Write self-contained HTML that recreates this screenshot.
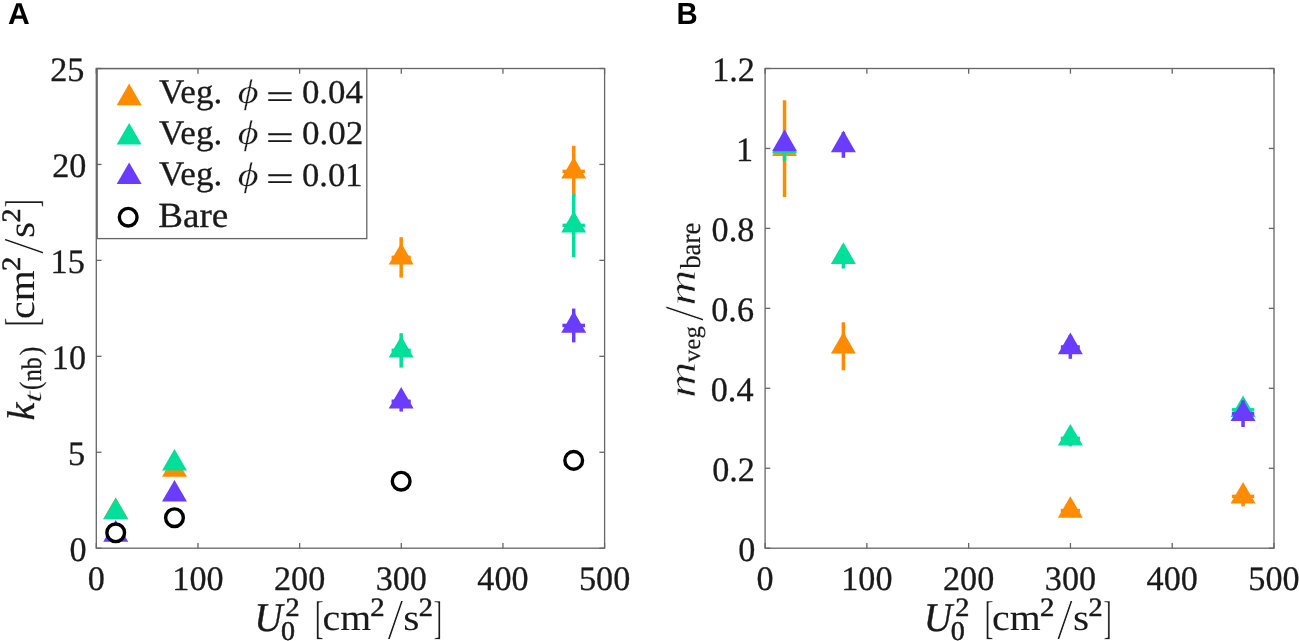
<!DOCTYPE html>
<html lang="en"><head><meta charset="utf-8"><title>Figure</title>
<style>html,body{margin:0;padding:0;background:#fff;}body{width:1299px;height:641px;overflow:hidden;}svg{display:block;will-change:transform;}text{text-rendering:geometricPrecision;}</style>
</head><body>
<svg width="1299" height="641" viewBox="0 0 1299 641">
<rect width="1299" height="641" fill="#fff"/>
<g font-family='"Liberation Sans", "DejaVu Sans", sans-serif' font-weight="bold" fill="#000">
<text transform="translate(7.95 24.00) scale(1.0050 1.0122)" font-size="30">A</text>
<text transform="translate(676.49 24.00) scale(0.9781 1.0170)" font-size="30">B</text>
</g>
<g font-family='"Liberation Serif", "DejaVu Serif", serif' font-size="34.2" fill="#1a1a1a" stroke="#1a1a1a" stroke-width="0.3">
<text x="96.30" y="590.20" text-anchor="middle">0</text>
<text x="197.96" y="590.20" text-anchor="middle">100</text>
<text x="299.62" y="590.20" text-anchor="middle">200</text>
<text x="401.28" y="590.20" text-anchor="middle">300</text>
<text x="502.94" y="590.20" text-anchor="middle">400</text>
<text x="604.60" y="590.20" text-anchor="middle">500</text>
<text x="69.57" y="560.70">0</text>
<text x="67.97" y="464.76">5</text>
<text x="51.87" y="368.82">10</text>
<text x="50.57" y="272.88">15</text>
<text x="52.27" y="176.94">20</text>
<text x="50.27" y="81.00">25</text>
</g>
<g>


<line x1="401.18" y1="237.20" x2="401.18" y2="277.60" stroke="#FF8C00" stroke-width="3.5"/><line x1="391.58" y1="257.40" x2="410.78" y2="257.40" stroke="#FF8C00" stroke-width="3.5"/>
<line x1="573.70" y1="145.80" x2="573.70" y2="197.00" stroke="#FF8C00" stroke-width="3.5"/><line x1="562.50" y1="171.40" x2="584.90" y2="171.40" stroke="#FF8C00" stroke-width="3.5"/>
<polygon points="115.72,497.40 128.19,519.00 103.25,519.00" fill="#FF8C00"/>
<polygon points="174.48,455.20 186.95,476.80 162.01,476.80" fill="#FF8C00"/>
<polygon points="401.18,243.00 413.65,264.60 388.71,264.60" fill="#FF8C00"/>
<polygon points="573.70,157.00 586.17,178.60 561.22,178.60" fill="#FF8C00"/>
</g>
<g>


<line x1="401.18" y1="333.20" x2="401.18" y2="367.60" stroke="#00E09A" stroke-width="3.5"/><line x1="391.58" y1="350.40" x2="410.78" y2="350.40" stroke="#00E09A" stroke-width="3.5"/>
<line x1="573.70" y1="193.60" x2="573.70" y2="257.20" stroke="#00E09A" stroke-width="3.5"/><line x1="562.50" y1="225.40" x2="584.90" y2="225.40" stroke="#00E09A" stroke-width="3.5"/>
<polygon points="115.72,497.70 128.19,519.30 103.25,519.30" fill="#00E09A"/>
<polygon points="174.48,448.90 186.95,470.50 162.01,470.50" fill="#00E09A"/>
<polygon points="401.18,336.00 413.65,357.60 388.71,357.60" fill="#00E09A"/>
<polygon points="573.70,211.00 586.17,232.60 561.22,232.60" fill="#00E09A"/>
</g>
<g>


<line x1="401.18" y1="391.00" x2="401.18" y2="411.60" stroke="#6A3CFF" stroke-width="3.5"/><line x1="391.58" y1="401.30" x2="410.78" y2="401.30" stroke="#6A3CFF" stroke-width="3.5"/>
<line x1="573.70" y1="308.55" x2="573.70" y2="342.35" stroke="#6A3CFF" stroke-width="3.5"/><line x1="562.40" y1="325.45" x2="585.00" y2="325.45" stroke="#6A3CFF" stroke-width="3.5"/>
<polygon points="115.72,520.10 128.19,541.70 103.25,541.70" fill="#6A3CFF"/>
<polygon points="174.48,479.90 186.95,501.50 162.01,501.50" fill="#6A3CFF"/>
<polygon points="401.18,386.90 413.65,408.50 388.71,408.50" fill="#6A3CFF"/>
<polygon points="573.70,311.05 586.17,332.65 561.22,332.65" fill="#6A3CFF"/>
</g>
<g>
<circle cx="115.72" cy="532.80" r="8.85" fill="#fff" stroke="#000" stroke-width="3.4"/>
<circle cx="174.48" cy="517.70" r="8.85" fill="#fff" stroke="#000" stroke-width="3.4"/>
<circle cx="401.18" cy="481.20" r="8.85" fill="#fff" stroke="#000" stroke-width="3.4"/>
<circle cx="573.70" cy="460.40" r="8.85" fill="#fff" stroke="#000" stroke-width="3.4"/>
</g>
<rect x="97.2" y="68.6" width="269.6" height="170.0" fill="#fff" stroke="#666666" stroke-width="1.3"/>
<polygon points="129.15,83.60 141.62,105.20 116.68,105.20" fill="#FF8C00"/>
<polygon points="129.15,122.90 141.62,144.50 116.68,144.50" fill="#00E09A"/>
<polygon points="129.15,162.40 141.62,184.00 116.68,184.00" fill="#6A3CFF"/>
<circle cx="128.20" cy="217.20" r="8.85" fill="#fff" stroke="#000" stroke-width="3.4"/>
<g font-family='"Liberation Serif", "DejaVu Serif", serif' fill="#1a1a1a" stroke="#1a1a1a" stroke-width="0.3">
<text transform="translate(158.95 102.71) scale(1.0615 1.0414)" font-size="33">Veg.</text>
<text transform="translate(237.74 103.28) scale(1.2186 1.0347)" font-size="33" font-style="italic" stroke="#fff" stroke-width="0.266">ϕ</text>
<text transform="translate(266.04 107.60) scale(1.4923 1.0390)" font-size="33" stroke-width="0.25">=</text>
<text transform="translate(301.90 103.10) scale(1.0584 1.0071)" font-size="33">0.04</text>
<text transform="translate(158.95 143.91) scale(1.0615 1.0414)" font-size="33">Veg.</text>
<text transform="translate(237.74 144.48) scale(1.2186 1.0347)" font-size="33" font-style="italic" stroke="#fff" stroke-width="0.266">ϕ</text>
<text transform="translate(266.04 148.80) scale(1.4923 1.0390)" font-size="33" stroke-width="0.25">=</text>
<text transform="translate(301.90 144.30) scale(1.0638 1.0071)" font-size="33">0.02</text>
<text transform="translate(158.95 185.21) scale(1.0615 1.0414)" font-size="33">Veg.</text>
<text transform="translate(237.74 185.78) scale(1.2186 1.0347)" font-size="33" font-style="italic" stroke="#fff" stroke-width="0.266">ϕ</text>
<text transform="translate(266.04 190.10) scale(1.4923 1.0390)" font-size="33" stroke-width="0.25">=</text>
<text transform="translate(301.92 185.60) scale(1.0487 1.0071)" font-size="33">0.01</text>
<text transform="translate(158.19 227.45) scale(1.1258 1.0709)" font-size="33">Bare</text>
</g>
<g stroke="#666666" stroke-width="1.3" fill="none">
<rect x="96.30" y="68.50" width="508.30" height="479.70"/>
<line x1="96.30" y1="548.20" x2="96.30" y2="543.00"/>
<line x1="96.30" y1="68.50" x2="96.30" y2="73.70"/>
<line x1="197.96" y1="548.20" x2="197.96" y2="543.00"/>
<line x1="197.96" y1="68.50" x2="197.96" y2="73.70"/>
<line x1="299.62" y1="548.20" x2="299.62" y2="543.00"/>
<line x1="299.62" y1="68.50" x2="299.62" y2="73.70"/>
<line x1="401.28" y1="548.20" x2="401.28" y2="543.00"/>
<line x1="401.28" y1="68.50" x2="401.28" y2="73.70"/>
<line x1="502.94" y1="548.20" x2="502.94" y2="543.00"/>
<line x1="502.94" y1="68.50" x2="502.94" y2="73.70"/>
<line x1="604.60" y1="548.20" x2="604.60" y2="543.00"/>
<line x1="604.60" y1="68.50" x2="604.60" y2="73.70"/>
<line x1="96.30" y1="548.20" x2="101.50" y2="548.20"/>
<line x1="604.60" y1="548.20" x2="599.40" y2="548.20"/>
<line x1="96.30" y1="452.26" x2="101.50" y2="452.26"/>
<line x1="604.60" y1="452.26" x2="599.40" y2="452.26"/>
<line x1="96.30" y1="356.32" x2="101.50" y2="356.32"/>
<line x1="604.60" y1="356.32" x2="599.40" y2="356.32"/>
<line x1="96.30" y1="260.38" x2="101.50" y2="260.38"/>
<line x1="604.60" y1="260.38" x2="599.40" y2="260.38"/>
<line x1="96.30" y1="164.44" x2="101.50" y2="164.44"/>
<line x1="604.60" y1="164.44" x2="599.40" y2="164.44"/>
<line x1="96.30" y1="68.50" x2="101.50" y2="68.50"/>
<line x1="604.60" y1="68.50" x2="599.40" y2="68.50"/>
</g>
<g transform="translate(33.9 419.8) rotate(-90)" font-family='"Liberation Serif", "DejaVu Serif", serif' fill="#1a1a1a" stroke="#1a1a1a" stroke-width="0.35">
<text transform="translate(-0.61 0.00) scale(1.0588 1.0186)" font-size="38.0" font-style="italic">k</text>
<text transform="translate(16.55 7.20) scale(1.6444 0.9227)" font-size="27" font-style="italic" stroke="#fff" stroke-width="0.390">t</text>
<text transform="translate(29.69 6.17) scale(0.9150 1.0988)" font-size="27" stroke-width="0.2">(</text>
<text transform="translate(38.60 6.72) scale(0.8873 1.0454)" font-size="27">nb</text>
<text transform="translate(64.43 6.17) scale(0.9544 1.0988)" font-size="27" stroke-width="0.2">)</text>
<text transform="translate(93.25 2.95) scale(0.7177 1.2175)" font-size="38.0" stroke="#fff" stroke-width="0.413">[</text>
<text transform="translate(100.91 -0.07) scale(1.0459 0.9814)" font-size="38.0" stroke-width="0.1">cm</text>
<text transform="translate(148.71 -14.30) scale(1.0648 0.9820)" font-size="27" stroke-width="0.55">2</text>
<text transform="translate(165.57 8.74) scale(1.5359 1.5338)" font-size="38.0" stroke="#fff" stroke-width="0.684">/</text>
<text transform="translate(181.74 -0.07) scale(1.0944 0.9814)" font-size="38.0" stroke-width="0.0">s</text>
<text transform="translate(197.23 -14.30) scale(1.0463 0.9820)" font-size="27" stroke-width="0.55">2</text>
<text transform="translate(212.00 2.95) scale(0.6784 1.2175)" font-size="38.0" stroke="#fff" stroke-width="0.422">]</text>
</g>
<g font-family='"Liberation Serif", "DejaVu Serif", serif' fill="#1a1a1a" stroke="#1a1a1a" stroke-width="0.35">
<text transform="translate(254.17 630.59) scale(1.0334 1.0724)" font-size="38.0" font-style="italic">U</text>
<text transform="translate(285.53 616.20) scale(1.0463 0.9820)" font-size="27" stroke-width="0.55">2</text>
<text transform="translate(281.08 639.93) scale(1.0406 1.0041)" font-size="27" stroke-width="0.55">0</text>
<text transform="translate(314.85 633.45) scale(0.7177 1.2175)" font-size="38.0" stroke="#fff" stroke-width="0.413">[</text>
<text transform="translate(322.51 630.43) scale(1.0459 0.9814)" font-size="38.0" stroke-width="0.1">cm</text>
<text transform="translate(370.31 616.20) scale(1.0648 0.9820)" font-size="27" stroke-width="0.55">2</text>
<text transform="translate(387.18 639.24) scale(1.5359 1.5338)" font-size="38.0" stroke="#fff" stroke-width="0.684">/</text>
<text transform="translate(403.34 630.43) scale(1.0944 0.9814)" font-size="38.0" stroke-width="0.0">s</text>
<text transform="translate(418.83 616.20) scale(1.0463 0.9820)" font-size="27" stroke-width="0.55">2</text>
<text transform="translate(433.60 633.45) scale(0.6784 1.2175)" font-size="38.0" stroke="#fff" stroke-width="0.422">]</text>
</g>
<g font-family='"Liberation Serif", "DejaVu Serif", serif' font-size="34.2" fill="#1a1a1a" stroke="#1a1a1a" stroke-width="0.3">
<text x="765.10" y="590.20" text-anchor="middle">0</text>
<text x="866.88" y="590.20" text-anchor="middle">100</text>
<text x="968.66" y="590.20" text-anchor="middle">200</text>
<text x="1070.44" y="590.20" text-anchor="middle">300</text>
<text x="1172.22" y="590.20" text-anchor="middle">400</text>
<text x="1274.00" y="590.20" text-anchor="middle">500</text>
<text x="738.37" y="560.70">0</text>
<text x="712.13" y="480.75">0.2</text>
<text x="710.76" y="400.80">0.4</text>
<text x="711.28" y="320.85">0.6</text>
<text x="711.62" y="240.90">0.8</text>
<text x="735.95" y="160.95">1</text>
<text x="712.23" y="81.00">1.2</text>
</g>
<g>
<line x1="784.54" y1="100.30" x2="784.54" y2="197.10" stroke="#FF8C00" stroke-width="3.5"/>
<line x1="843.37" y1="322.30" x2="843.37" y2="370.30" stroke="#FF8C00" stroke-width="3.5"/>
<line x1="1060.74" y1="510.60" x2="1079.94" y2="510.60" stroke="#FF8C00" stroke-width="3.5"/>
<line x1="1243.06" y1="486.40" x2="1243.06" y2="506.40" stroke="#FF8C00" stroke-width="3.5"/><line x1="1231.86" y1="496.40" x2="1254.26" y2="496.40" stroke="#FF8C00" stroke-width="3.5"/>
<polygon points="784.54,134.30 797.01,155.90 772.07,155.90" fill="#FF8C00"/>
<polygon points="843.37,331.90 855.84,353.50 830.90,353.50" fill="#FF8C00"/>
<polygon points="1070.34,496.20 1082.81,517.80 1057.87,517.80" fill="#FF8C00"/>
<polygon points="1243.06,482.00 1255.53,503.60 1230.59,503.60" fill="#FF8C00"/>
</g>
<g>
<line x1="784.54" y1="131.40" x2="784.54" y2="160.80" stroke="#00E09A" stroke-width="3.5"/>
<line x1="843.37" y1="244.90" x2="843.37" y2="268.50" stroke="#00E09A" stroke-width="3.5"/>
<line x1="1070.34" y1="430.40" x2="1070.34" y2="446.40" stroke="#00E09A" stroke-width="3.5"/><line x1="1060.74" y1="438.40" x2="1079.94" y2="438.40" stroke="#00E09A" stroke-width="3.5"/>
<line x1="1231.86" y1="409.80" x2="1254.26" y2="409.80" stroke="#00E09A" stroke-width="3.5"/>
<polygon points="784.54,131.70 797.01,153.30 772.07,153.30" fill="#00E09A"/>
<polygon points="843.37,242.30 855.84,263.90 830.90,263.90" fill="#00E09A"/>
<polygon points="1070.34,424.00 1082.81,445.60 1057.87,445.60" fill="#00E09A"/>
<polygon points="1243.06,395.40 1255.53,417.00 1230.59,417.00" fill="#00E09A"/>
</g>
<g>

<line x1="843.37" y1="132.20" x2="843.37" y2="157.80" stroke="#6A3CFF" stroke-width="3.5"/>
<line x1="1070.34" y1="335.20" x2="1070.34" y2="358.80" stroke="#6A3CFF" stroke-width="3.5"/><line x1="1060.84" y1="347.00" x2="1079.84" y2="347.00" stroke="#6A3CFF" stroke-width="3.5"/>
<line x1="1243.06" y1="400.60" x2="1243.06" y2="427.00" stroke="#6A3CFF" stroke-width="3.5"/><line x1="1231.86" y1="413.80" x2="1254.26" y2="413.80" stroke="#6A3CFF" stroke-width="3.5"/>
<polygon points="784.54,129.60 797.01,151.20 772.07,151.20" fill="#6A3CFF"/>
<polygon points="843.37,130.60 855.84,152.20 830.90,152.20" fill="#6A3CFF"/>
<polygon points="1070.34,332.60 1082.81,354.20 1057.87,354.20" fill="#6A3CFF"/>
<polygon points="1243.06,399.40 1255.53,421.00 1230.59,421.00" fill="#6A3CFF"/>
</g>
<g stroke="#666666" stroke-width="1.3" fill="none">
<rect x="765.10" y="68.50" width="508.90" height="479.70"/>
<line x1="765.10" y1="548.20" x2="765.10" y2="543.00"/>
<line x1="765.10" y1="68.50" x2="765.10" y2="73.70"/>
<line x1="866.88" y1="548.20" x2="866.88" y2="543.00"/>
<line x1="866.88" y1="68.50" x2="866.88" y2="73.70"/>
<line x1="968.66" y1="548.20" x2="968.66" y2="543.00"/>
<line x1="968.66" y1="68.50" x2="968.66" y2="73.70"/>
<line x1="1070.44" y1="548.20" x2="1070.44" y2="543.00"/>
<line x1="1070.44" y1="68.50" x2="1070.44" y2="73.70"/>
<line x1="1172.22" y1="548.20" x2="1172.22" y2="543.00"/>
<line x1="1172.22" y1="68.50" x2="1172.22" y2="73.70"/>
<line x1="1274.00" y1="548.20" x2="1274.00" y2="543.00"/>
<line x1="1274.00" y1="68.50" x2="1274.00" y2="73.70"/>
<line x1="765.10" y1="548.20" x2="770.30" y2="548.20"/>
<line x1="1274.00" y1="548.20" x2="1268.80" y2="548.20"/>
<line x1="765.10" y1="468.25" x2="770.30" y2="468.25"/>
<line x1="1274.00" y1="468.25" x2="1268.80" y2="468.25"/>
<line x1="765.10" y1="388.30" x2="770.30" y2="388.30"/>
<line x1="1274.00" y1="388.30" x2="1268.80" y2="388.30"/>
<line x1="765.10" y1="308.35" x2="770.30" y2="308.35"/>
<line x1="1274.00" y1="308.35" x2="1268.80" y2="308.35"/>
<line x1="765.10" y1="228.40" x2="770.30" y2="228.40"/>
<line x1="1274.00" y1="228.40" x2="1268.80" y2="228.40"/>
<line x1="765.10" y1="148.45" x2="770.30" y2="148.45"/>
<line x1="1274.00" y1="148.45" x2="1268.80" y2="148.45"/>
<line x1="765.10" y1="68.50" x2="770.30" y2="68.50"/>
<line x1="1274.00" y1="68.50" x2="1268.80" y2="68.50"/>
</g>
<g transform="translate(694.2 396.0) rotate(-90)" font-family='"Liberation Serif", "DejaVu Serif", serif' fill="#1a1a1a" stroke="#1a1a1a" stroke-width="0.35">
<text transform="translate(-1.96 0.50) scale(1.3260 1.0190)" font-size="38.0" font-style="italic" stroke="#fff" stroke-width="0.512">m</text>
<text transform="translate(33.80 5.72) scale(0.9253 0.9093)" font-size="27" stroke-width="0.15">veg</text>
<text transform="translate(74.77 8.76) scale(1.4689 1.4866)" font-size="38.0" stroke="#fff" stroke-width="0.711">/</text>
<text transform="translate(90.25 0.50) scale(1.3178 1.0190)" font-size="38.0" font-style="italic" stroke="#fff" stroke-width="0.514">m</text>
<text transform="translate(127.20 6.01) scale(0.9935 1.0665)" font-size="27" stroke-width="0.15">bare</text>
</g>
<g font-family='"Liberation Serif", "DejaVu Serif", serif' fill="#1a1a1a" stroke="#1a1a1a" stroke-width="0.35">
<text transform="translate(923.77 630.59) scale(1.0334 1.0724)" font-size="38.0" font-style="italic">U</text>
<text transform="translate(955.13 616.20) scale(1.0463 0.9820)" font-size="27" stroke-width="0.55">2</text>
<text transform="translate(950.68 639.93) scale(1.0406 1.0041)" font-size="27" stroke-width="0.55">0</text>
<text transform="translate(984.45 633.45) scale(0.7177 1.2175)" font-size="38.0" stroke="#fff" stroke-width="0.413">[</text>
<text transform="translate(992.11 630.43) scale(1.0459 0.9814)" font-size="38.0" stroke-width="0.1">cm</text>
<text transform="translate(1039.91 616.20) scale(1.0648 0.9820)" font-size="27" stroke-width="0.55">2</text>
<text transform="translate(1056.77 639.24) scale(1.5359 1.5338)" font-size="38.0" stroke="#fff" stroke-width="0.684">/</text>
<text transform="translate(1072.94 630.43) scale(1.0944 0.9814)" font-size="38.0" stroke-width="0.0">s</text>
<text transform="translate(1088.43 616.20) scale(1.0463 0.9820)" font-size="27" stroke-width="0.55">2</text>
<text transform="translate(1103.20 633.45) scale(0.6784 1.2175)" font-size="38.0" stroke="#fff" stroke-width="0.422">]</text>
</g>
</svg></body></html>
